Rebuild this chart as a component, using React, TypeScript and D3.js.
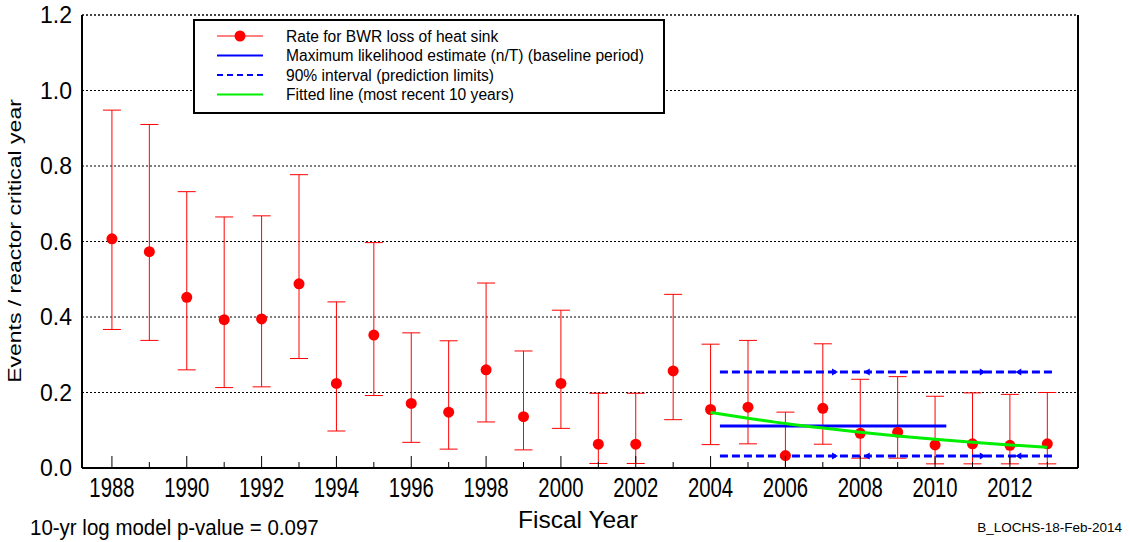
import React from "react";
import * as d3 from "d3";

// fiscal years and rates
const years = [1988, 1989, 1990, 1991, 1992, 1993, 1994, 1995, 1996, 1997, 1998, 1999, 2000, 2001, 2002, 2003, 2004, 2005, 2006, 2007, 2008, 2009, 2010, 2011, 2012, 2013];
const rates = [0.607, 0.573, 0.452, 0.393, 0.395, 0.488, 0.224, 0.352, 0.171, 0.148, 0.26, 0.136, 0.224, 0.063, 0.063, 0.257, 0.155, 0.161, 0.033, 0.158, 0.092, 0.095, 0.061, 0.064, 0.06, 0.064];
const upper = [0.948, 0.91, 0.732, 0.665, 0.668, 0.777, 0.44, 0.597, 0.358, 0.337, 0.49, 0.31, 0.418, 0.198, 0.198, 0.46, 0.328, 0.338, 0.148, 0.329, 0.235, 0.242, 0.19, 0.199, 0.195, 0.2];
const lower = [0.367, 0.338, 0.26, 0.213, 0.215, 0.29, 0.098, 0.192, 0.068, 0.05, 0.122, 0.048, 0.105, 0.012, 0.012, 0.128, 0.062, 0.064, 0.001, 0.063, 0.026, 0.026, 0.011, 0.011, 0.011, 0.011];

// baseline estimate and prediction limits
const mleSpan = [2004.25, 2010.3];
const mleValue = 0.111;
const limitSpan = [2004.25, 2013.2];
const limitUpper = 0.254;
const limitLower = 0.032;
const arrowMarks = [[2007.3, 1], [2008.2, -1], [2011.25, 1], [2012.25, -1]];

// fitted line (recent 10 years)
const fitYears = [2004, 2005, 2006, 2007, 2008, 2009, 2010, 2011, 2012, 2013];
const fitValues = [0.147, 0.132, 0.118, 0.106, 0.095, 0.085, 0.076, 0.068, 0.061, 0.055];

const yTicks = [0, 0.2, 0.4, 0.6, 0.8, 1.0, 1.2];
const xLabelYears = [1988, 1990, 1992, 1994, 1996, 1998, 2000, 2002, 2004, 2006, 2008, 2010, 2012];

const legendItems = [
  "Rate for BWR loss of heat sink",
  "Maximum likelihood estimate (n/T) (baseline period)",
  "90% interval (prediction limits)",
  "Fitted line (most recent 10 years)",
];

const W = 1130, H = 542;
const margin = { left: 82, top: 15, right: 52, bottom: 74 };
const font = "Liberation Sans, Arial, sans-serif";

export default function App() {
  const innerW = W - margin.left - margin.right;
  const innerH = H - margin.top - margin.bottom;
  const x = d3.scaleLinear().domain([1987.2, 2013.82]).range([0, innerW]);
  const y = d3.scaleLinear().domain([0, 1.2]).range([innerH, 0]);
  const fitLine = d3.line<number>()
    .x((_, i) => x(fitYears[i]))
    .y((d) => y(d))
    .curve(d3.curveMonotoneX);
  const allYears = d3.range(1988, 2014);
  const cap = 9;

  return (
    <svg width={W} height={H} style={{ position: "absolute", left: 0, top: 0, fontFamily: font }}>
      <rect width={W} height={H} fill="white" />
      <g transform={`translate(${margin.left},${margin.top})`}>
        {/* grid */}
        {yTicks.filter((t) => t > 0).map((t) => (
          <line key={t} x1={0} x2={innerW} y1={y(t)} y2={y(t)} stroke={t === 1.2 ? "#444" : "#000"}
            strokeWidth={t === 1.2 ? 2 : 1} strokeDasharray="2,2" />
        ))}
        {/* error bars */}
        {years.map((yr, i) => (
          <g key={yr} stroke="#ff0000" strokeWidth={1}>
            <line x1={x(yr)} x2={x(yr)} y1={y(upper[i])} y2={y(lower[i])} />
            <line x1={x(yr) - cap} x2={x(yr) + cap} y1={y(upper[i])} y2={y(upper[i])} />
            <line x1={x(yr) - cap} x2={x(yr) + cap} y1={y(lower[i])} y2={y(lower[i])} />
          </g>
        ))}
        {/* limits */}
        {[limitUpper, limitLower].map((v) => (
          <line key={v} x1={x(limitSpan[0])} x2={x(limitSpan[1])} y1={y(v)} y2={y(v)}
            stroke="#0000ff" strokeWidth={3} strokeDasharray="8,4" />
        ))}
        {[limitUpper, limitLower].map((v) =>
          arrowMarks.map(([yr, dir]) => {
            const cx = x(yr), cy = y(v);
            return (
              <path key={`${v}-${yr}`} d={`M${cx + 4 * dir},${cy} L${cx - 2 * dir},${cy - 3.5} L${cx - 2 * dir},${cy + 3.5} Z`} fill="#0000ff" />
            );
          })
        )}
        <line x1={x(mleSpan[0])} x2={x(mleSpan[1])} y1={y(mleValue)} y2={y(mleValue)} stroke="#0000ff" strokeWidth={3} />
        {/* points */}
        {years.map((yr, i) => (
          <circle key={yr} cx={x(yr)} cy={y(rates[i])} r={5.5} fill="#ff0000" />
        ))}
        <path d={fitLine(fitValues) || ""} fill="none" stroke="#00ee00" strokeWidth={3} />

        {/* axes */}
        <line x1={0} x2={0} y1={0} y2={innerH} stroke="#000" strokeWidth={2} />
        <line x1={innerW} x2={innerW} y1={0} y2={innerH} stroke="#000" strokeWidth={2} />
        <line x1={0} x2={innerW} y1={innerH} y2={innerH} stroke="#000" strokeWidth={2} />
        {allYears.map((yr) => (
          <line key={yr} x1={x(yr)} x2={x(yr)} y1={innerH} y2={innerH - (yr % 2 === 0 ? 12 : 6)} stroke="#000" strokeWidth={1} />
        ))}
        {xLabelYears.map((yr) => (
          <text key={yr} transform={`translate(${x(yr)},${innerH + 29}) scale(1,1.36)`} textAnchor="middle" fontSize={20.3}>{yr}</text>
        ))}
        {yTicks.map((t) => (
          <text key={t} x={-10} y={y(t) + 8} textAnchor="end" fontSize={23}>{t.toFixed(1)}</text>
        ))}

        {/* legend */}
        <g transform="translate(112,5)">
          <rect x={0} y={0} width={470} height={93} fill="white" stroke="#000" strokeWidth={2} />
          {legendItems.map((label, i) => {
            const ly = 16 + i * 19.5;
            return (
              <g key={label}>
                {i === 0 && <line x1={23} x2={69} y1={ly} y2={ly} stroke="#ff0000" strokeWidth={1} />}
                {i === 0 && <circle cx={46} cy={ly} r={5.5} fill="#ff0000" />}
                {i === 1 && <line x1={23} x2={69} y1={ly} y2={ly} stroke="#0000ff" strokeWidth={2} />}
                {i === 2 && <line x1={23} x2={69} y1={ly} y2={ly} stroke="#0000ff" strokeWidth={2} strokeDasharray="6,4" />}
                {i === 3 && <line x1={23} x2={69} y1={ly} y2={ly} stroke="#00ee00" strokeWidth={2} />}
                <text x={92} y={ly + 5.5} fontSize={15.6}>{label}</text>
              </g>
            );
          })}
        </g>
      </g>

      <text transform={`translate(21,241) rotate(-90) scale(1.3,1)`} textAnchor="middle" fontSize={17.7}>Events / reactor critical year</text>
      <text x={578} y={528} textAnchor="middle" fontSize={24.5}>Fiscal Year</text>
      <text transform="translate(30,535) scale(1,1.12)" fontSize={20.5}>10-yr log model p-value = 0.097</text>
      <text x={1122} y={532} textAnchor="end" fontSize={13.5}>B_LOCHS-18-Feb-2014</text>
    </svg>
  );
}
